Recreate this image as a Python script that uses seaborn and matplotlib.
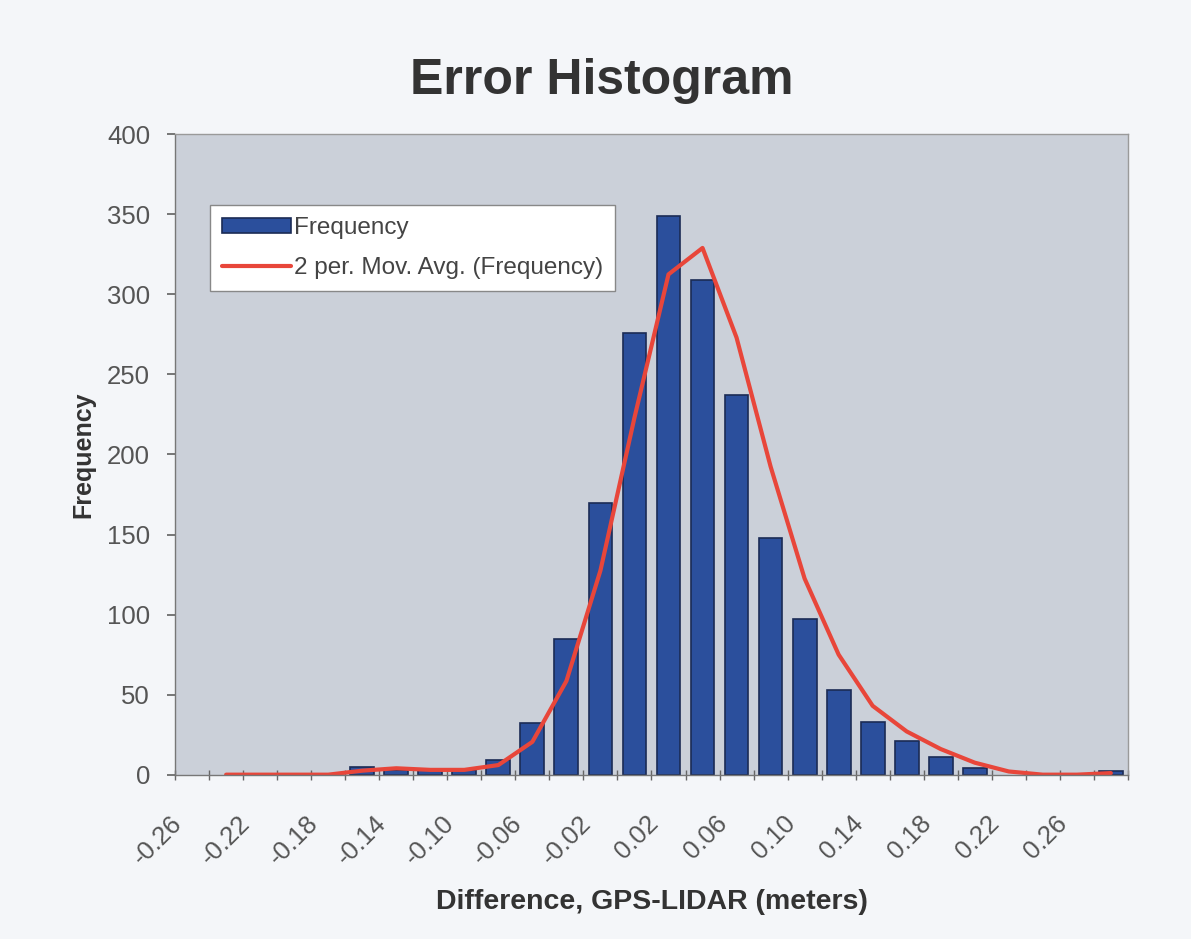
import numpy as np
import pandas as pd
import matplotlib
matplotlib.use("Agg")
import matplotlib.pyplot as plt
import matplotlib.transforms as mtransforms
from matplotlib.patches import Patch
import seaborn as sns

# bin centres (meters) and counts
bins = [-0.26, -0.24, -0.22, -0.20, -0.18, -0.16, -0.14, -0.12, -0.10, -0.08,
        -0.06, -0.04, -0.02, 0.00, 0.02, 0.04, 0.06, 0.08, 0.10, 0.12,
        0.14, 0.16, 0.18, 0.20, 0.22, 0.24, 0.26, 0.28]
counts = [0, 0, 0, 0, 0, 5, 3, 3, 3, 9,
          32, 85, 170, 276, 349, 309, 237, 148, 97, 53,
          33, 21, 11, 4, 0, 0, 0, 2]
yticks = [0, 50, 100, 150, 200, 250, 300, 350, 400]

df = pd.DataFrame({"bin": [f"{b:.2f}" for b in bins], "count": counts})
df["pos"] = np.arange(len(df))
# Excel's "2 per. Mov. Avg." trendline
df["ma"] = df["count"].rolling(2).mean()

bar_color = "#2b4f9c"
bar_edge = "#1b2b55"
line_color = "#e8463a"

sns.set_theme(style="white")
plt.rcParams["font.family"] = ["Liberation Sans", "DejaVu Sans"]

fig = plt.figure(figsize=(11.91, 9.39), dpi=100, facecolor="#f4f6f9")
ax = fig.add_axes([0.147, 0.175, 0.800, 0.682])
ax.set_facecolor("#cbd0d9")

sns.barplot(data=df, x="bin", y="count", color=bar_color, edgecolor=bar_edge,
            linewidth=1.2, width=0.7, saturation=1, ax=ax)
# empty bins show nothing in the original
for p in ax.patches:
    if p.get_height() == 0:
        p.set_visible(False)
sns.lineplot(data=df.dropna(), x="pos", y="ma", color=line_color, linewidth=3,
             ax=ax, legend=False)

ax.set_yticks(yticks)
ax.set_yticklabels([str(v) for v in yticks], fontsize=18.5, color="#555555")

# labels on every other category, tick marks between categories
ax.set_xticks(df["pos"][::2])
ax.set_xticklabels(df["bin"][::2], rotation=45, ha="right", va="top",
                   rotation_mode="anchor", fontsize=18.5, color="#555555")
ax.tick_params(axis="x", which="major", length=0, pad=26)
ax.set_xticks(np.arange(len(df) + 1) - 0.5, minor=True)
ax.tick_params(axis="x", which="minor", length=7, direction="inout",
               color="#666666", bottom=True)
ax.tick_params(axis="y", length=6, direction="out", color="#666666", left=True, pad=12)
ax.set_xlim(-0.5, len(df) - 0.5)
ax.set_ylim(0, 400)

# Excel puts the end of the rotated text a little left of the category
shift = mtransforms.ScaledTranslation(-22 / 100, 0, fig.dpi_scale_trans)
for lbl in ax.get_xticklabels():
    lbl.set_transform(lbl.get_transform() + shift)

for s in ax.spines.values():
    s.set_color("#9a9a9a")
    s.set_linewidth(1)
ax.spines["left"].set_color("#777777")
ax.spines["bottom"].set_color("#777777")

ax.set_xlabel("Difference, GPS-LIDAR (meters)", fontsize=20.5, fontweight="bold",
              color="#333333", labelpad=14)
ax.set_ylabel("Frequency", fontsize=18, fontweight="bold", color="#333333", labelpad=8)
fig.suptitle("Error Histogram", fontsize=36, fontweight="bold", color="#333333",
             x=0.505, y=0.938)

handles = [Patch(facecolor=bar_color, edgecolor=bar_edge, linewidth=1.2),
           plt.Line2D([], [], color=line_color, linewidth=3)]
leg = ax.legend(handles, ["Frequency", "2 per. Mov. Avg. (Frequency)"],
                loc="upper left", bbox_to_anchor=(0.037, 0.89), borderaxespad=0,
                fontsize=17.5, frameon=True, fancybox=False, handlelength=2.8,
                handleheight=0.6, handletextpad=0.15, labelspacing=0.75, borderpad=0.5)
leg.get_frame().set_facecolor("white")
leg.get_frame().set_edgecolor("#888888")
leg.get_frame().set_alpha(1)
for t in leg.get_texts():
    t.set_color("#444444")

plt.savefig("out.png", dpi=100, facecolor=fig.get_facecolor())
